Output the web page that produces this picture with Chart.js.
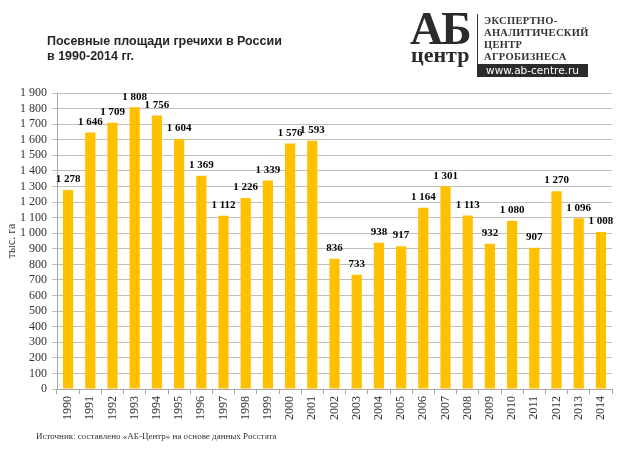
<!DOCTYPE html>
<html>
<head>
<meta charset="utf-8">
<script src="https://cdn.jsdelivr.net/npm/chart.js@4"></script>
<style>
  html, body { margin: 0; padding: 0; background: #fff; }
  body { width: 618px; height: 463px; position: relative; overflow: hidden; }
  #wrap { position: absolute; left: 0; top: 0; width: 618px; height: 463px; }
  .title { position: absolute; left: 47px; top: 34px; font-family: "Liberation Sans", Arial, sans-serif; font-weight: bold; font-size: 12.5px; line-height: 14.5px; color: #262626; white-space: nowrap; }
  .source { position: absolute; left: 36px; top: 431px; font-family: "Liberation Serif", "Times New Roman", serif; font-size: 9px; color: #333; }
  .logo-ab { position: absolute; left: 410px; top: 6px; font-family: "Liberation Serif", serif; font-weight: bold; font-size: 46px; line-height: 46px; color: #2b2b2b; letter-spacing: -2px; }
  .logo-c { position: absolute; left: 411px; top: 44px; font-family: "Liberation Serif", serif; font-weight: bold; font-size: 22px; line-height: 22px; color: #2b2b2b; }
  .logo-line { position: absolute; left: 477px; top: 14px; width: 1px; height: 50px; background: #333; }
  .logo-txt { position: absolute; left: 484px; top: 15px; font-family: "Liberation Serif", serif; font-weight: bold; font-size: 10.5px; line-height: 12px; color: #333; letter-spacing: 0.3px; }
  .logo-url { position: absolute; left: 477px; top: 64px; width: 111px; height: 13px; background: #2b2b2b; color: #fff; font-family: "DejaVu Sans", sans-serif; font-size: 10.5px; line-height: 13px; text-align: center; }
</style>
</head>
<body>
<div id="wrap"><canvas id="c" width="618" height="463"></canvas></div>
<div class="title">Посевные площади гречихи в России<br>в 1990-2014 гг.</div>
<div class="logo-ab">АБ</div>
<div class="logo-c">центр</div>
<div class="logo-line"></div>
<div class="logo-txt">ЭКСПЕРТНО-<br>АНАЛИТИЧЕСКИЙ<br>ЦЕНТР<br>АГРОБИЗНЕСА</div>
<div class="logo-url">www.ab-centre.ru</div>
<div class="source">Источник: составлено «АБ-Центр» на основе данных Росстата</div>
<script>
const years = ["1990","1991","1992","1993","1994","1995","1996","1997","1998","1999","2000","2001","2002","2003","2004","2005","2006","2007","2008","2009","2010","2011","2012","2013","2014"];
const areaThousandHa = [1278,1646,1709,1808,1756,1604,1369,1112,1226,1339,1576,1593,836,733,938,917,1164,1301,1113,932,1080,907,1270,1096,1008];
const yAxisTitle = "тыс. га";

function fmt(v) {
  const s = String(Math.round(v));
  return s.replace(/\B(?=(\d{3})+(?!\d))/g, " ");
}

const labelPlugin = {
  id: 'barLabels',
  afterDatasetsDraw(chart) {
    const ctx = chart.ctx;
    const meta = chart.getDatasetMeta(0);
    ctx.save();
    ctx.font = 'bold 11px "Liberation Serif", "Times New Roman", serif';
    ctx.fillStyle = '#000';
    ctx.textAlign = 'center';
    ctx.textBaseline = 'bottom';
    meta.data.forEach((bar, i) => {
      ctx.fillText(fmt(chart.data.datasets[0].data[i]), bar.x, bar.y - 5);
    });
    ctx.restore();
  }
};

new Chart(document.getElementById('c'), {
  type: 'bar',
  data: {
    labels: years,
    datasets: [{
      data: areaThousandHa,
      backgroundColor: '#FFC000',
      borderWidth: 0,
      barPercentage: 0.46,
      categoryPercentage: 1
    }]
  },
  options: {
    responsive: false,
    animation: false,
    layout: { padding: { top: 93, right: 6, left: 0, bottom: 0 } },
    plugins: { legend: { display: false }, tooltip: { enabled: false } },
    scales: {
      x: {
        afterFit(s) { s.height = 74; },
        grid: { offset: true, drawOnChartArea: false, drawTicks: true, tickLength: 5, color: '#a6a6a6' },
        border: { color: '#a6a6a6' },
        ticks: { autoSkip: false, minRotation: 90, maxRotation: 90, padding: 2, color: '#333', font: { family: '"Liberation Serif", "Times New Roman", serif', size: 12 } }
      },
      y: {
        min: 0, max: 1900,
        afterFit(s) { s.width = 57; },
        ticks: { autoSkip: false, stepSize: 100, padding: 5, color: '#333', font: { family: '"Liberation Serif", "Times New Roman", serif', size: 12 }, callback: v => fmt(v) },
        grid: { color: '#bfbfbf', tickLength: 5 },
        border: { color: '#a6a6a6' },
        title: { display: true, text: yAxisTitle, color: '#333', padding: { top: 5, bottom: 0 }, font: { family: '"Liberation Serif", "Times New Roman", serif', size: 12 } }
      }
    }
  },
  plugins: [labelPlugin]
});
</script>
</body>
</html>
